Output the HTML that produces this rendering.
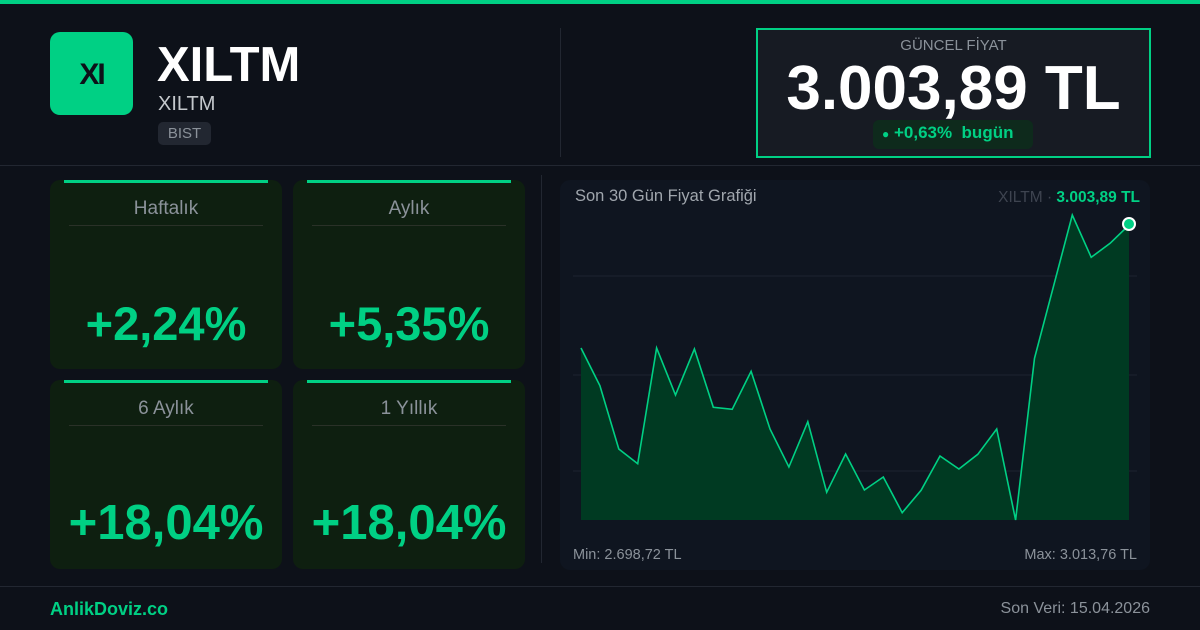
<!DOCTYPE html>
<html><head><meta charset="utf-8"><style>
*{margin:0;padding:0;box-sizing:border-box}
body{width:1200px;height:630px;background:#0d1119;font-family:"Liberation Sans",sans-serif;position:relative;overflow:hidden;color:#fff}
.a{position:absolute}
.card{position:absolute;width:232px;height:189px;background:#0e1f10;border-radius:10px}
.card .bar{position:absolute;left:14px;top:0;width:204px;height:3px;background:#00d084}
.card .lb{position:absolute;top:18px;width:100%;text-align:center;font-size:19px;color:#8b929a}
.card .ln{position:absolute;left:19px;right:19px;top:45px;height:1px;background:#2a3128}
.card .v{position:absolute;top:116px;width:100%;text-align:center;font-size:47px;font-weight:bold;color:#00d084}
.card .v.b{font-size:49px;top:115px}
</style></head><body>
<div class="a" style="left:0;top:0;width:1200px;height:4px;background:#00d084"></div>
<div class="a" style="left:50px;top:32px;width:83px;height:83px;background:#00d084;border-radius:10px;color:#0d1119;font-weight:bold;font-size:30px;text-align:center;line-height:85px;letter-spacing:-2px">XI</div>
<div class="a" style="left:157px;top:37px;font-size:49px;font-weight:bold;line-height:56px">XILTM</div>
<div class="a" style="left:158px;top:93px;font-size:20px;color:#c4c8cc">XILTM</div>
<div class="a" style="left:158px;top:122px;width:53px;height:23px;background:#222731;border-radius:5px;color:#8b929a;font-size:15px;text-align:center;line-height:23px">BIST</div>
<div class="a" style="left:560px;top:28px;width:1px;height:129px;background:#222731"></div>
<div class="a" style="left:756px;top:28px;width:395px;height:130px;border:2px solid #00d084;background:#171b23"></div>
<div class="a" style="left:756px;top:37px;width:395px;text-align:center;font-size:15px;color:#8b929a">GÜNCEL FİYAT</div>
<div class="a" style="left:756px;top:55px;width:395px;text-align:center;font-size:62px;font-weight:bold;line-height:68px">3.003,89 TL</div>
<div class="a" style="left:873px;top:120px;width:160px;height:29px;background:#0e2a1c;border-radius:6px;color:#00d084;font-weight:bold;font-size:17px;line-height:26px;padding-left:9px"><span style="font-size:12px">●</span> +0,63%&nbsp; bugün</div>
<div class="a" style="left:0;top:165px;width:1200px;height:1px;background:#222731"></div>
<div class="card" style="left:50px;top:180px"><div class="bar"></div><div class="lb">Haftalık</div><div class="ln"></div><div class="v">+2,24%</div></div>
<div class="card" style="left:293px;top:180px"><div class="bar"></div><div class="lb">Aylık</div><div class="ln"></div><div class="v">+5,35%</div></div>
<div class="card" style="left:50px;top:380px"><div class="bar"></div><div class="lb">6 Aylık</div><div class="ln"></div><div class="v b">+18,04%</div></div>
<div class="card" style="left:293px;top:380px"><div class="bar"></div><div class="lb">1 Yıllık</div><div class="ln"></div><div class="v b">+18,04%</div></div>
<div class="a" style="left:541px;top:175px;width:1px;height:388px;background:#222731"></div>
<div class="a" style="left:560px;top:180px;width:590px;height:390px;background:#0f1520;border-radius:10px"></div>
<div class="a" style="left:575px;top:187px;font-size:16.5px;color:#a0a6ad">Son 30 Gün Fiyat Grafiği</div>
<div class="a" style="left:900px;top:189px;width:240px;text-align:right;font-size:15.5px;color:#3e4450">XILTM · <b style="color:#00d084">3.003,89 TL</b></div>
<svg class="a" style="left:0;top:0" width="1200" height="630">
<g stroke="#1c2230" stroke-width="1"><line x1="573" y1="276" x2="1137" y2="276"/><line x1="573" y1="375" x2="1137" y2="375"/><line x1="573" y1="471" x2="1137" y2="471"/></g>
<polygon fill="#003a22" points="581,520 581,348 599.9,385.7 618.8,449 637.7,463.7 656.6,348 675.5,395 694.4,349 713.3,407.3 732.2,409.3 751.1,371.3 770,429 788.9,467 807.8,421.7 826.7,492.3 845.6,454 864.4,490 883.3,477 902.2,512.7 921.1,490.3 940,456 958.9,469 977.8,454.3 996.7,429 1015.6,520 1034.5,358.3 1053.4,286.7 1072.3,215 1091.2,257.3 1110.1,243.3 1129,225 1129,520"/>
<polyline fill="none" stroke="#00d084" stroke-width="1.6" points="581,348 599.9,385.7 618.8,449 637.7,463.7 656.6,348 675.5,395 694.4,349 713.3,407.3 732.2,409.3 751.1,371.3 770,429 788.9,467 807.8,421.7 826.7,492.3 845.6,454 864.4,490 883.3,477 902.2,512.7 921.1,490.3 940,456 958.9,469 977.8,454.3 996.7,429 1015.6,520 1034.5,358.3 1053.4,286.7 1072.3,215 1091.2,257.3 1110.1,243.3 1129,225"/>
<circle cx="1129" cy="224" r="6" fill="#00d084" stroke="#fff" stroke-width="2"/>
</svg>
<div class="a" style="left:573px;top:547px;font-size:14.5px;color:#8b929a">Min: 2.698,72 TL</div>
<div class="a" style="left:937px;top:547px;width:200px;text-align:right;font-size:14.5px;color:#8b929a">Max: 3.013,76 TL</div>
<div class="a" style="left:0;top:586px;width:1200px;height:1px;background:#222731"></div>
<div class="a" style="left:50px;top:599px;font-size:18px;font-weight:bold;color:#00d084">AnlikDoviz.co</div>
<div class="a" style="left:950px;top:600px;width:200px;text-align:right;font-size:16px;color:#8b929a">Son Veri: 15.04.2026</div>
</body></html>
